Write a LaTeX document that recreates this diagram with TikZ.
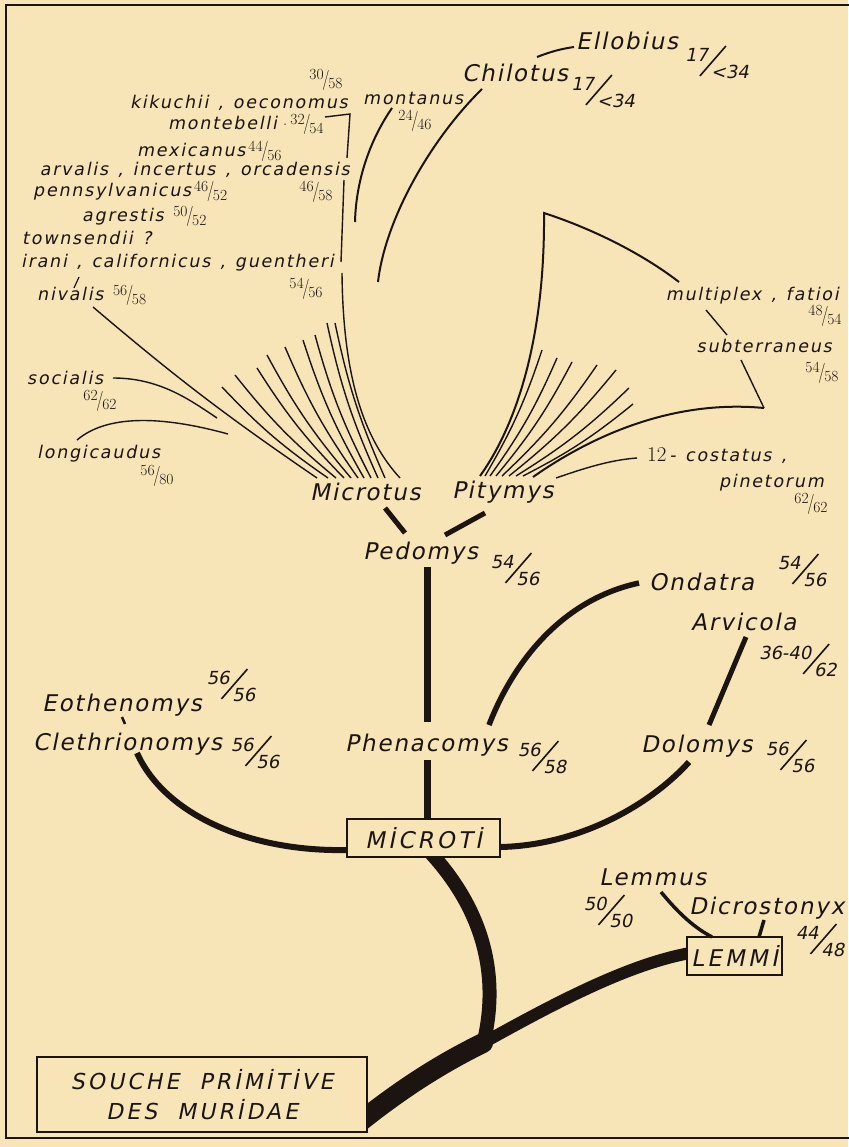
\documentclass[tikz,border=0pt]{standalone}
\usepackage{fontspec}
\usepackage{graphicx}
\newfontfamily\labfont{DejaVu Sans}[LetterSpace=8,FakeSlant=0.2]
\newfontfamily\smlfont{DejaVu Sans}[LetterSpace=10,FakeSlant=0.2,WordSpace=1.3]
\newfontfamily\capfont{DejaVu Sans}[LetterSpace=14,FakeSlant=0.2]
\newfontfamily\frfont{DejaVu Sans}[FakeSlant=0.2]
\definecolor{bg}{RGB}{247,229,184}
\definecolor{ink}{RGB}{28,20,16}
\newcommand\sfr[2]{{\rmfamily\fontsize{15.5}{15.5}\selectfont\raisebox{0.36em}{#1}\kern-0.08em\scalebox{1}[1.3]{/}\kern-0.08em\raisebox{-0.22em}{#2}}}
\newcommand\bfr[2]{{\frfont\fontsize{18}{18}\selectfont\raisebox{0.95em}{#1}\kern-0.49em\raisebox{0.1em}{\rotatebox{49}{\rule{2.2em}{0.09em}}}\kern-0.873em #2}}
\tikzset{
  big/.style={font=\labfont\fontsize{23}{23}\selectfont, inner sep=0pt, text=ink},
  small/.style={font=\smlfont\fontsize{17.5}{17.5}\selectfont, inner sep=0pt, text=ink},
  fr/.style={inner sep=0pt, text=ink},
  lnthin/.style={draw=ink, line width=1.4pt},
  lnmid/.style={draw=ink, line width=2pt},
  lnbold/.style={draw=ink, line width=5pt},
  lnheavy/.style={draw=ink, line width=7pt},
  box/.style={draw=ink, line width=1.3pt, fill=bg, font=\capfont\fontsize{23}{23}\selectfont, text=ink, inner sep=0pt},
}
\begin{document}
\begin{tikzpicture}[x=1pt,y=-1pt]
\fill[bg] (0,0) rectangle (848,1147);
\useasboundingbox (0,0) rectangle (848,1147);
\draw[ink,line width=1.4pt] (852,5) -- (6,5) -- (6,1138) -- (852,1138);

% ---------- upper-left list ----------
\node[fr] (f3058) at (326,80) {\sfr{30}{58}};
\node[small,anchor=base east] (kik) at (348,109) {kikuchii , oeconomus};
\node[small,anchor=base west] (monteb) at (168,130) {montebelli\,{\rmfamily\fontsize{14}{14}\selectfont·}\sfr{32}{54}};
\node[small,anchor=base west] (mexi) at (137,157) {mexicanus\,\sfr{44}{56}};
\node[small,anchor=base east] (arv) at (350,176) {arvalis , incertus , orcadensis};
\node[fr] (f4658) at (316,192) {\sfr{46}{58}};
\node[small,anchor=base west] (penn) at (33,197) {pennsylvanicus\,\sfr{46}{52}};
\node[small,anchor=base west] (agr) at (82,222) {agrestis\ \sfr{50}{52}};
\node[small,anchor=base west] (town) at (22,245) {townsendii ?};
\node[small,anchor=base west] (irani) at (21,268) {irani , californicus , guentheri};
\node[fr] (f5456) at (306,289) {\sfr{54}{56}};
\node[small,anchor=base west] (nival) at (37,301) {nivalis\ \sfr{56}{58}};
\node[small,anchor=base west] (montanus) at (363,105) {montanus};
\node[fr] (f2446) at (415,121) {\sfr{24}{46}};
\node[small,anchor=base west] (socialis) at (27,384) {socialis};
\node[fr] (f6262a) at (100,401) {\sfr{62}{62}};
\node[small,anchor=base west] (longi) at (37,458) {longicaudus};
\node[fr] (f5680) at (157,476) {\sfr{56}{80}};

% ---------- upper-right ----------
\node[big,anchor=base west] (chilotus) at (462,82) {Chilotus};
\node[fr] (fchil) at (603,91) {\bfr{17}{<34}};
\node[big,anchor=base west] (ellobius) at (576,50) {Ellobius};
\node[fr] (fell) at (717,62) {\bfr{17}{<34}};
\node[small,anchor=base east] (multi) at (839,300) {multiplex , fatioi};
\node[fr] (f4854) at (825,316) {\sfr{48}{54}};
\node[small,anchor=base east] (subt) at (832,352) {subterraneus};
\node[fr] (f5458) at (822,373) {\sfr{54}{58}};
\node[small,anchor=base west] (costatus) at (647,461) {{\rmfamily\fontsize{21}{21}\selectfont 12}\,- costatus ,};
\node[small,anchor=base east] (pineto) at (824,487) {pinetorum};
\node[fr] (f6262b) at (811,504) {\sfr{62}{62}};

% ---------- central genera ----------
\node[big,anchor=base west] (microtus) at (310,500) {Microtus};
\node[big,anchor=base west] (pitymys) at (452,498) {Pitymys};
\node[big,anchor=base west] (pedomys) at (363,559) {Pedomys};
\node[fr] (fped) at (515,569) {\bfr{54}{56}};
\node[big,anchor=base west] (ondatra) at (649,590) {Ondatra};
\node[fr] (fond) at (802,570) {\bfr{54}{56}};
\node[big,anchor=base west] (arvicola) at (691,630) {Arvicola};
\node[fr] (farv) at (798,660) {\bfr{36-40}{62}};
\node[big,anchor=base west] (phena) at (345,751) {Phenacomys};
\node[fr] (fphen) at (542,757) {\bfr{56}{58}};
\node[big,anchor=base west] (dolomys) at (641,752) {Dolomys};
\node[fr] (fdol) at (790,756) {\bfr{56}{56}};
\node[big,anchor=base west] (eothen) at (42,711) {Eothenomys};
\node[fr] (feoth) at (231,685) {\bfr{56}{56}};
\node[big,anchor=base west] (cleth) at (33,750) {Clethrionomys};
\node[fr] (fcleth) at (255,752) {\bfr{56}{56}};
\node[big,anchor=base west] (lemmus) at (599,885) {Lemmus};
\node[fr] (flem) at (608,911) {\bfr{50}{50}};
\node[big,anchor=base west] (dicro) at (689,914) {Dicrostonyx};
\node[fr] (fdic) at (820,940) {\bfr{44}{48}};

% ---------- trunk ----------
\coordinate (jn) at (483,1043);
\draw[ink,line width=20pt,line cap=round] (360,1122) .. controls (400,1090) and (440,1064) .. (jn);
\draw[ink,line width=12pt,line cap=round] (jn) .. controls (560,1000) and (630,964) .. (690,953);
\draw[ink,line width=14pt,line cap=round] (428,850) .. controls (475,900) and (503,965) .. (483,1045);

% ---------- boxes ----------
\node[box, minimum width=153pt, minimum height=38pt] (microti) at (423.5,838) {MİCROTİ};
\node[box, minimum width=95pt, minimum height=38pt] (lemmi) at (734.5,956) {LEMMİ};
\node[box, minimum width=330pt, minimum height=75pt, align=center, font=\capfont\fontsize{22}{30}\selectfont] (souche) at (202,1094.5) {SOUCHE~~PRİMİTİVE\\DES~~MURİDAE};

% ---------- thick connectors ----------
\coordinate (mcl) at (347,850);
\coordinate (clt) at (137,753);
\draw[ink,line width=6pt] (mcl) .. controls (250,852) and (165,815) .. (clt);
\coordinate (mcr) at (501,847);
\coordinate (dlb) at (689,762);
\draw[ink,line width=6pt] (mcr) .. controls (580,845) and (650,805) .. (dlb);
\coordinate (phb) at (427,760);
\draw[lnheavy] (phb) -- (427,819);
\coordinate (pdb) at (427,567);
\coordinate (pht) at (427,722);
\draw[lnheavy] (pdb) -- (pht);
\coordinate (phr) at (489,725);
\coordinate (ondl) at (639,583);
\draw[ink,line width=5.5pt] (phr) .. controls (512,665) and (560,600) .. (ondl);
\coordinate (arvb) at (746,637);
\coordinate (dolt) at (709,725);
\draw[lnbold] (arvb) -- (dolt);
\coordinate (mtb) at (385,508);
\coordinate (pdl) at (405,533);
\draw[lnbold] (mtb) -- (pdl);
\coordinate (pyb) at (485,513);
\coordinate (pdr) at (445,535);
\draw[lnbold] (pyb) -- (pdr);
\coordinate (eob) at (122,717);
\coordinate (clt2) at (125,724);
\draw[ink,line width=2.5pt] (eob) -- (clt2);
\coordinate (lmb) at (661,892);
\coordinate (lmi) at (712,937);
\draw[ink,line width=3.5pt] (lmb) .. controls (680,915) and (695,928) .. (lmi);
\coordinate (dcb) at (764,920);
\coordinate (dci) at (759,937);
\draw[ink,line width=3.5pt] (dcb) -- (dci);

% ---------- upper thin connectors ----------
\coordinate (chl) at (537,57);
\coordinate (elb) at (574,47);
\draw[lnmid] (chl) .. controls (550,52) and (560,49) .. (elb);
\coordinate (chb) at (482,89);
\coordinate (chx) at (378,282);
\draw[lnmid] (chb) .. controls (430,140) and (385,220) .. (chx);
\coordinate (mnb) at (392,108);
\coordinate (mnx) at (355,222);
\draw[lnmid] (mnb) .. controls (370,140) and (356,180) .. (mnx);

% bracket and long Microtus line
\coordinate (bk1) at (325,117);
\coordinate (bk3) at (347,158);
\draw[lnthin] (bk1) -- (350,114) -- (bk3);
\coordinate (lg1) at (344,180);
\coordinate (lg2) at (341,262);
\draw[lnthin] (lg1) -- (lg2);
\coordinate (lg3) at (342,273);
\coordinate (mb10) at (400,478);
\draw[lnthin] (lg3) .. controls (343,380) and (365,440) .. (mb10);

% nivalis line and small ticks
\coordinate (nvl) at (93,307);
\coordinate (mb0) at (317,478);
\draw[lnthin] (nvl) to[bend right=3] (mb0);
\coordinate (irt) at (79,277);
\coordinate (nvt) at (74,288);
\draw[ink,line width=1.2pt] (irt) -- (nvt);

% socialis, longicaudus
\coordinate (soc) at (113,378);
\coordinate (soce) at (217,418);
\draw[lnthin] (soc) .. controls (160,378) and (190,400) .. (soce);
\coordinate (lgc) at (77,440);
\coordinate (lgce) at (228,434);
\draw[lnthin] (lgc) .. controls (110,412) and (170,418) .. (lgce);

% Microtus fan
\foreach \i/\tx/\ty/\bx in {1/222/387/328, 2/235/375/336, 3/257/368/344, 4/267/355/351, 5/285/347/358, 6/303/340/364, 7/315/335/371, 8/327/323/378, 9/335/323/385}{
  \coordinate (mt\i) at (\tx,\ty);
  \coordinate (mb\i) at (\bx,478);
  \draw[lnthin] (mt\i) to[bend right=6] (mb\i);
}

% Pitymys enclosure
\coordinate (pe0) at (544,213);
\coordinate (pe1) at (679,282);
\coordinate (pe2) at (480,476);
\coordinate (pe3) at (764,408);
\coordinate (pe4) at (533,477);
\draw[lnmid] (pe1) .. controls (640,252) and (590,228) .. (pe0) .. controls (545,330) and (520,420) .. (pe2);
\draw[lnmid] (pe3) .. controls (680,400) and (600,430) .. (pe4);
\coordinate (sbt) at (741,360);
\draw[lnthin] (sbt) -- (pe3);
\coordinate (mpb) at (706,310);
\coordinate (sbt2) at (727,335);
\draw[lnthin] (mpb) -- (sbt2);
\coordinate (cs1) at (556,478);
\coordinate (cs2) at (637,458);
\draw[lnthin] (cs1) .. controls (585,468) and (610,460) .. (cs2);

% Pitymys fan
\foreach \i/\tx/\ty/\bx in {1/542/350/485, 2/557/358/490, 3/572/362/496, 4/597/365/502, 5/616/370/509, 6/629/388/516, 7/633/404/523}{
  \coordinate (pt\i) at (\tx,\ty);
  \coordinate (pb\i) at (\bx,476);
  \draw[lnthin] (pt\i) to[bend left=6] (pb\i);
}
\end{tikzpicture}
\end{document}
